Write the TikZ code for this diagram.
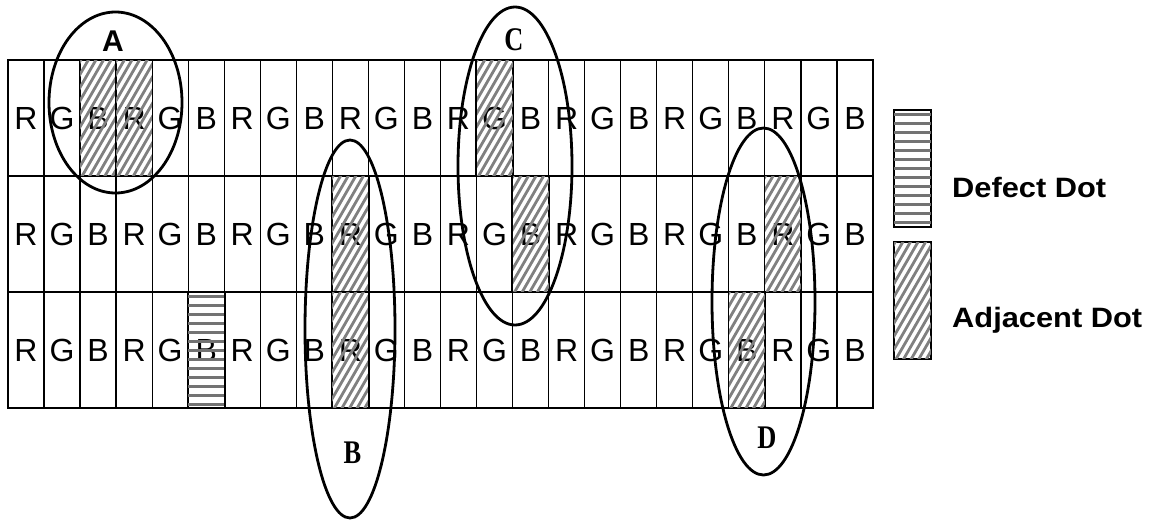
\documentclass[tikz,border=0pt]{standalone}
\usepackage{fontspec}
\usepackage{graphicx}
\setmainfont{Liberation Sans}
\newfontfamily\lblserif{Liberation Serif}
\usetikzlibrary{shapes.geometric}
\tikzset{
  cell/.style={draw, line width=1.3pt, minimum width=36.04pt, minimum height=116pt, inner sep=0pt,
    font=\fontsize{32}{32}\selectfont},
  hatchline/.style={draw=black!50, line width=2.8pt},
  stripeline/.style={draw=black!55, line width=3pt},
  frame/.style={line width=1.3pt},
  legbox/.style={draw, line width=1.3pt, minimum width=37pt, minimum height=117pt, inner sep=0pt},
  ring/.style={draw, ellipse, line width=2.8pt, inner sep=0pt},
  lblsans/.style={inner sep=0pt, font=\fontsize{30}{30}\selectfont\bfseries},
  lblser/.style={inner sep=0pt, font=\fontsize{33}{33}\selectfont\lblserif\bfseries},
  legtext/.style={anchor=west, inner sep=0pt, text depth=0pt, font=\fontsize{28}{28}\selectfont\bfseries}
}
% diagonal hatch inside a named node
\newcommand{\adjfill}[1]{%
  \begin{scope}
    \clip (#1.south west) rectangle (#1.north east);
    \foreach \k in {-10,...,6}{
      \draw[hatchline] ($(#1.south west)+(\k*7.6,4)$) -- ++(72,-124.7);
    }
  \end{scope}
  \draw[frame] (#1.south west) rectangle (#1.north east);
}
% horizontal stripes inside a named node
\newcommand{\deffill}[1]{%
  \begin{scope}
    \clip (#1.south west) rectangle (#1.north east);
    \foreach \k in {0,...,13}{
      \draw[stripeline] ($(#1.north west)+(-2,5+\k*9)$) -- ++(44,0);
    }
  \end{scope}
  \draw[frame] (#1.south west) rectangle (#1.north east);
}
\usetikzlibrary{calc}
\begin{document}
\begin{tikzpicture}[x=1pt,y=-1pt]
\useasboundingbox (0,0) rectangle (1157,522);
% grid
\foreach \r/\yc in {1/118,2/234,3/350}{
  \foreach \c in {0,...,23}{
    \pgfmathtruncatemacro{\m}{mod(\c,3)}
    \ifcase\m \def\lt{R}\or \def\lt{G}\or \def\lt{B}\fi
    \node[cell] (c-\r-\c) at ({8+36.04*(\c+0.5)},\yc) {\lt};
  }
}
% adjacent dots (hatched)
\foreach \r/\c in {1/2,1/3,1/13,2/9,2/14,2/21,3/9,3/20}{
  \adjfill{c-\r-\c}
}
% defect dot
\deffill{c-3-5}
% ellipses
\node[ring, minimum width=133pt, minimum height=181pt] (ellA) at (115.5,102.5) {};
\node[ring, minimum width=90pt, minimum height=378pt] (ellB) at (350,329) {};
\node[ring, minimum width=114pt, minimum height=318pt] (ellC) at (515,166) {};
\node[ring, minimum width=103pt, minimum height=347pt] (ellD) at (763.5,301.5) {};
% labels
\node[lblsans] (labA) at (113,41) {A};
\node[lblser] (labB) at (352.5,453) {\scalebox{0.8}[1]{B}};
\node[lblser] (labC) at (514,40) {\scalebox{0.8}[1]{C}};
\node[lblser] (labD) at (767,438) {\scalebox{0.8}[1]{D}};
% legend
\node[legbox] (legDef) at (912.5,168.5) {};
\node[legbox] (legAdj) at (912.5,300.5) {};
\deffill{legDef}
\adjfill{legAdj}
\node[legtext] (txtDef) at (952,187) {\scalebox{1.1}[1]{Defect Dot}};
\node[legtext] (txtAdj) at (952,317) {\scalebox{1.1}[1]{Adjacent Dot}};
\end{tikzpicture}
\end{document}
